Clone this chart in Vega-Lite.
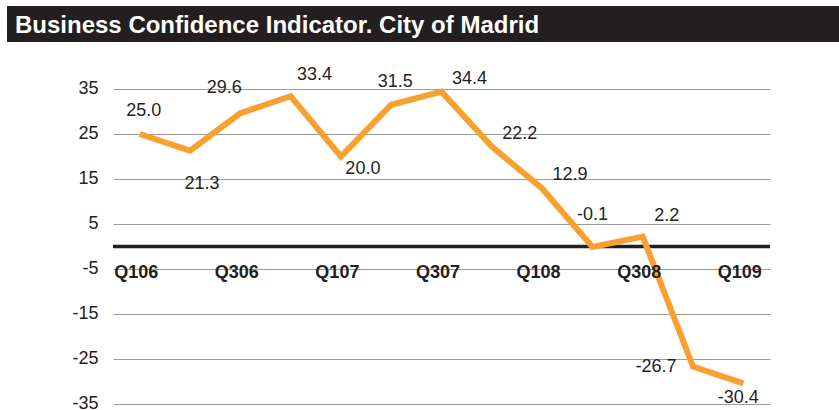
{
  "$schema": "https://vega.github.io/schema/vega-lite/v6.json",
  "padding": {"left": 7, "top": 6, "right": 0, "bottom": 0},
  "background": "white",
  "spacing": 24,
  "config": {
    "view": {"stroke": null},
    "font": "Liberation Sans",
    "locale": {"number": {"decimal": ".", "thousands": ",", "grouping": [3], "currency": ["$", ""], "minus": "-"}}
  },
  "datasets": {
    "bci": [
      {"q": "Q106", "v": 25.0},
      {"q": "Q206", "v": 21.3},
      {"q": "Q306", "v": 29.6},
      {"q": "Q406", "v": 33.4},
      {"q": "Q107", "v": 20.0},
      {"q": "Q207", "v": 31.5},
      {"q": "Q307", "v": 34.4},
      {"q": "Q407", "v": 22.2},
      {"q": "Q108", "v": 12.9},
      {"q": "Q208", "v": -0.1},
      {"q": "Q308", "v": 2.2},
      {"q": "Q408", "v": -26.7},
      {"q": "Q109", "v": -30.4}
    ],
    "heading": [{"t": "Business Confidence Indicator. City of Madrid"}],
    "zero": [{"level": 0}]
  },
  "vconcat": [
    {
      "width": 657,
      "height": 36,
      "data": {"name": "heading"},
      "layer": [
        {
          "mark": {"type": "rect", "color": "#231f20"},
          "encoding": {"x": {"value": -106}, "x2": {"value": 726}, "y": {"value": 0}, "y2": {"value": 36}}
        },
        {
          "mark": {"type": "text", "align": "left", "baseline": "alphabetic", "color": "#ffffff", "font": "Liberation Sans", "fontWeight": "bold", "fontSize": 24},
          "encoding": {"text": {"field": "t"}, "x": {"value": -98}, "y": {"value": 27}}
        }
      ]
    },
    {
      "width": 657,
      "height": 315,
      "layer": [
        {
          "data": {"name": "zero"},
          "mark": {"type": "rule", "color": "#231f20", "strokeWidth": 3.5},
          "encoding": {"y": {"field": "level", "type": "quantitative"}}
        },
        {
          "data": {"name": "bci"},
          "mark": {"type": "line", "color": "#F8A131", "strokeWidth": 6, "strokeJoin": "miter", "strokeCap": "butt"},
          "encoding": {
            "x": {
              "field": "q", "type": "ordinal", "sort": null,
              "scale": {"type": "point", "padding": 0.53, "domain": ["Q106","Q206","Q306","Q406","Q107","Q207","Q307","Q407","Q108","Q208","Q308","Q408","Q109"]},
              "axis": {
                "orient": "bottom", "offset": -132, "title": null, "zindex": 1,
                "values": ["Q106","Q306","Q107","Q307","Q108","Q308","Q109"],
                "domain": false, "ticks": false, "tickSize": 0, "grid": false,
                "labelFont": "Liberation Sans", "labelFontWeight": "bold", "labelFontSize": 18,
                "labelColor": "#231f20", "labelPadding": 0, "labelBaseline": "middle",
                "labelAngle": 0, "labelOffset": -4
              }
            },
            "y": {
              "field": "v", "type": "quantitative",
              "scale": {"domain": [-35, 35], "nice": false, "zero": false},
              "axis": {
                "title": null, "values": [-35, -25, -15, -5, 5, 15, 25, 35],
                "domain": false, "ticks": false, "labelFontSize": 18, "labelFont": "Liberation Sans",
                "labelColor": "#231f20", "labelPadding": 15, "labelOffset": -1,
                "gridColor": "#9a9a9a", "gridWidth": 1, "minExtent": 106
              }
            }
          }
        },
        {
          "data": {"name": "bci"},
          "transform": [{"filter": {"field": "q", "oneOf": ["Q106", "Q207"]}}],
          "mark": {"type": "text", "fontSize": 18, "color": "#231f20", "baseline": "middle", "dx": 4, "dy": -23},
          "encoding": {"x": {"field": "q", "type": "ordinal", "sort": null}, "y": {"field": "v", "type": "quantitative"}, "text": {"field": "v", "type": "quantitative", "format": ".1f"}}
        },
        {
          "data": {"name": "bci"},
          "transform": [{"filter": {"field": "q", "oneOf": ["Q306"]}}],
          "mark": {"type": "text", "fontSize": 18, "color": "#231f20", "baseline": "middle", "dx": -16, "dy": -25},
          "encoding": {"x": {"field": "q", "type": "ordinal", "sort": null}, "y": {"field": "v", "type": "quantitative"}, "text": {"field": "v", "type": "quantitative", "format": ".1f"}}
        },
        {
          "data": {"name": "bci"},
          "transform": [{"filter": {"field": "q", "oneOf": ["Q406", "Q308"]}}],
          "mark": {"type": "text", "fontSize": 18, "color": "#231f20", "baseline": "middle", "dx": 24, "dy": -21},
          "encoding": {"x": {"field": "q", "type": "ordinal", "sort": null}, "y": {"field": "v", "type": "quantitative"}, "text": {"field": "v", "type": "quantitative", "format": ".1f"}}
        },
        {
          "data": {"name": "bci"},
          "transform": [{"filter": {"field": "q", "oneOf": ["Q307", "Q407", "Q108"]}}],
          "mark": {"type": "text", "fontSize": 18, "color": "#231f20", "baseline": "middle", "dx": 28, "dy": -13},
          "encoding": {"x": {"field": "q", "type": "ordinal", "sort": null}, "y": {"field": "v", "type": "quantitative"}, "text": {"field": "v", "type": "quantitative", "format": ".1f"}}
        },
        {
          "data": {"name": "bci"},
          "transform": [{"filter": {"field": "q", "oneOf": ["Q206"]}}],
          "mark": {"type": "text", "fontSize": 18, "color": "#231f20", "baseline": "middle", "dx": 12, "dy": 33},
          "encoding": {"x": {"field": "q", "type": "ordinal", "sort": null}, "y": {"field": "v", "type": "quantitative"}, "text": {"field": "v", "type": "quantitative", "format": ".1f"}}
        },
        {
          "data": {"name": "bci"},
          "transform": [{"filter": {"field": "q", "oneOf": ["Q107"]}}],
          "mark": {"type": "text", "fontSize": 18, "color": "#231f20", "baseline": "middle", "dx": 22, "dy": 12},
          "encoding": {"x": {"field": "q", "type": "ordinal", "sort": null}, "y": {"field": "v", "type": "quantitative"}, "text": {"field": "v", "type": "quantitative", "format": ".1f"}}
        },
        {
          "data": {"name": "bci"},
          "transform": [{"filter": {"field": "q", "oneOf": ["Q208"]}}],
          "mark": {"type": "text", "fontSize": 18, "color": "#231f20", "baseline": "middle", "dx": 0, "dy": -32},
          "encoding": {"x": {"field": "q", "type": "ordinal", "sort": null}, "y": {"field": "v", "type": "quantitative"}, "text": {"field": "v", "type": "quantitative", "format": ".1f"}}
        },
        {
          "data": {"name": "bci"},
          "transform": [{"filter": {"field": "q", "oneOf": ["Q408"]}}],
          "mark": {"type": "text", "fontSize": 18, "color": "#231f20", "baseline": "middle", "dx": -37, "dy": 0},
          "encoding": {"x": {"field": "q", "type": "ordinal", "sort": null}, "y": {"field": "v", "type": "quantitative"}, "text": {"field": "v", "type": "quantitative", "format": ".1f"}}
        },
        {
          "data": {"name": "bci"},
          "transform": [{"filter": {"field": "q", "oneOf": ["Q109"]}}],
          "mark": {"type": "text", "fontSize": 18, "color": "#231f20", "baseline": "middle", "dx": -5, "dy": 15},
          "encoding": {"x": {"field": "q", "type": "ordinal", "sort": null}, "y": {"field": "v", "type": "quantitative"}, "text": {"field": "v", "type": "quantitative", "format": ".1f"}}
        }
      ]
    }
  ]
}
